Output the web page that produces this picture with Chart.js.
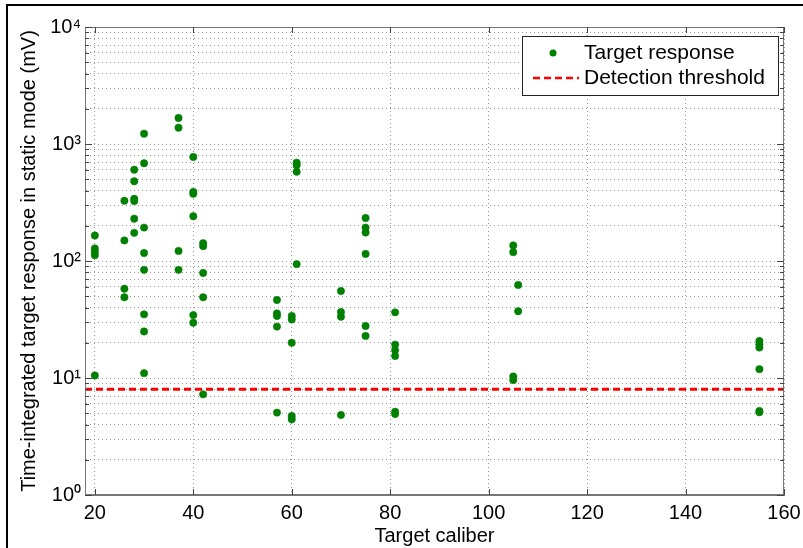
<!DOCTYPE html>
<html>
<head>
<meta charset="utf-8">
<script src="https://cdn.jsdelivr.net/npm/chart.js@4.4.1/dist/chart.umd.min.js"></script>
<style>
  html, body { margin: 0; padding: 0; background: #fff; }
</style>
</head>
<body>
<canvas id="myScatter" width="803" height="548"></canvas>
<script>
const calibers = [
    20, 20, 20, 20, 20,
    26, 26, 26, 26,
    28, 28, 28, 28, 28, 28,
    30, 30, 30, 30, 30, 30, 30, 30,
    37, 37, 37, 37,
    40, 40, 40, 40, 40, 40,
    42, 42, 42, 42, 42,
    57, 57, 57, 57, 57,
    60, 60, 60, 60, 60,
    61, 61, 61, 61,
    70, 70, 70, 70,
    75, 75, 75, 75, 75, 75,
    81, 81, 81, 81, 81, 81,
    105, 105, 105, 105,
    106, 106,
    155, 155, 155, 155, 155, 155
];
const responses = [
    165, 128, 120, 112, 10.5,
    327, 150, 58, 49,
    603, 480, 340, 325, 230, 174,
    1225, 684, 193, 117, 84, 35, 25, 11,
    1668, 1378, 122, 84,
    774, 390, 375, 241, 34.5, 29.7,
    142, 134, 79, 49, 7.25,
    46.4, 35.7, 33.9, 27.5, 5.06,
    33.9, 31.7, 20, 4.73, 4.43,
    692, 658, 580, 94,
    55.4, 36.6, 33.4, 4.83,
    233, 193, 175, 115, 27.8, 22.9,
    36.4, 19.3, 17.3, 15.4, 5.15, 4.92,
    136, 119, 10.3, 9.6,
    62.4, 37.2,
    20.7, 19.4, 18.2, 11.9, 5.22, 5.09
];

// Detection threshold drawn across the whole x range
const thresholdX = [18, 160];
const thresholdLevel = 8;

// Axis ticks
const xTicks = [20, 40, 60, 80, 100, 120, 140, 160];
const yDecades = [1, 10, 100, 1000, 10000];
const yMinorSteps = [2, 3, 4, 5, 6, 7, 8, 9];
const superscripts = ['⁰', '¹', '²', '³', '⁴'];

const FONT = 'Arial, "Liberation Sans", sans-serif';

// every decade plus its minor steps for the log grid
const yTickValues = [];
yDecades.forEach((d, i) => {
    yTickValues.push(d);
    if (i < yDecades.length - 1) yMinorSteps.forEach(s => yTickValues.push(d * s));
});

// frame, box and inward tick marks like the original figure
const framePlugin = {
    id: 'frame',
    afterDraw(chart) {
        const ctx = chart.ctx;
        const a = chart.chartArea;
        const xs = chart.scales.x, ys = chart.scales.y;
        ctx.save();
        ctx.strokeStyle = '#777';
        ctx.lineWidth = 1;
        ctx.strokeRect(a.left + 0.5, a.top + 0.5, a.right - a.left - 1, a.bottom - a.top - 1);

        ctx.strokeStyle = '#444';
        ctx.beginPath();
        ys.ticks.forEach(t => {
            const y = Math.round(ys.getPixelForValue(t.value)) + 0.5;
            const len = yDecades.includes(t.value) ? 7 : 4;
            ctx.moveTo(a.left, y); ctx.lineTo(a.left + len, y);
            ctx.moveTo(a.right, y); ctx.lineTo(a.right - len, y);
        });
        xs.ticks.forEach(t => {
            const x = Math.round(xs.getPixelForValue(t.value)) + 0.5;
            ctx.moveTo(x, a.bottom); ctx.lineTo(x, a.bottom - 6);
            ctx.moveTo(x, a.top); ctx.lineTo(x, a.top + 6);
        });
        ctx.stroke();

        // outer figure border (left and top visible)
        ctx.strokeStyle = '#000';
        ctx.lineWidth = 2;
        ctx.beginPath();
        ctx.moveTo(7, chart.height); ctx.lineTo(7, 5); ctx.lineTo(chart.width, 5);
        ctx.stroke();
        ctx.restore();
    }
};

// boxed legend in the upper right corner
const legendBoxPlugin = {
    id: 'legendBox',
    afterDraw(chart) {
        const ctx = chart.ctx;
        const a = chart.chartArea;
        const ds = chart.data.datasets;
        const right = a.right - 6, top = a.top + 9;
        const w = 256, h = 59;
        const left = right - w;
        ctx.save();
        ctx.fillStyle = '#fff';
        ctx.fillRect(left, top, w, h);
        ctx.strokeStyle = '#222';
        ctx.lineWidth = 1;
        ctx.strokeRect(left + 0.5, top + 0.5, w, h);

        ctx.font = '21px ' + FONT;
        ctx.fillStyle = '#000';
        ctx.textBaseline = 'middle';
        const textX = left + 62;
        const y1 = top + 17, y2 = top + 42;

        ctx.fillStyle = ds[0].backgroundColor;
        ctx.beginPath();
        ctx.arc(left + 31, y1, 3.5, 0, Math.PI * 2);
        ctx.fill();
        ctx.fillStyle = '#000';
        ctx.fillText(ds[0].label, textX, y1);

        ctx.strokeStyle = ds[1].borderColor;
        ctx.lineWidth = 2.5;
        ctx.setLineDash(ds[1].borderDash);
        ctx.beginPath();
        ctx.moveTo(left + 11, y2); ctx.lineTo(left + 57, y2);
        ctx.stroke();
        ctx.setLineDash([]);
        ctx.fillText(ds[1].label, textX, y2);
        ctx.restore();
    }
};

const ctx = document.getElementById('myScatter').getContext('2d');
const myScatter = new Chart(ctx, {
    type: 'scatter',
    data: {
        datasets: [{
            label: 'Target response',
            data: calibers.map((c, i) => ({ x: c, y: responses[i] })),
            backgroundColor: '#008000',
            borderColor: '#008000',
            pointRadius: 3.7,
            borderWidth: 0.5
        }, {
            type: 'line',
            label: 'Detection threshold',
            data: thresholdX.map(x => ({ x: x, y: thresholdLevel })),
            borderColor: '#ff0000',
            borderWidth: 3,
            borderDash: [7, 4],
            pointRadius: 0,
            fill: false
        }]
    },
    options: {
        responsive: false,
        animation: false,
        layout: { padding: { left: 13, top: 27, right: 19, bottom: 0 } },
        plugins: {
            legend: { display: false },
            tooltip: { enabled: false }
        },
        scales: {
            x: {
                type: 'linear',
                min: 18,
                max: 160,
                afterBuildTicks: s => { s.ticks = xTicks.map(v => ({ value: v })); },
                afterFit: s => { s.height = 53; s.paddingLeft = 0; s.paddingRight = 0; },
                grid: { color: '#999', drawTicks: false },
                border: { color: '#777', dash: [1, 3] },
                ticks: { color: '#000', padding: 6, maxRotation: 0, font: { family: FONT, size: 20 } },
                title: {
                    display: true,
                    text: 'Target caliber',
                    color: '#000',
                    font: { family: FONT, size: 20 },
                    padding: { top: 0, bottom: 0 }
                }
            },
            y: {
                type: 'logarithmic',
                min: 1,
                max: 10000,
                afterBuildTicks: s => { s.ticks = yTickValues.map(v => ({ value: v })); },
                afterFit: s => { s.width = 72; s.paddingTop = 0; s.paddingBottom = 0; },
                grid: { color: '#999', drawTicks: false },
                border: { color: '#777', dash: [1, 3] },
                ticks: {
                    autoSkip: false,
                    color: '#000',
                    padding: 4,
                    font: { family: FONT, size: 20 },
                    callback: v => {
                        const i = yDecades.indexOf(v);
                        return i >= 0 ? '10' + superscripts[i] : '';
                    }
                },
                title: {
                    display: true,
                    text: 'Time-integrated target response in static mode (mV)',
                    color: '#000',
                    font: { family: FONT, size: 20 },
                    padding: { top: 4, bottom: 4 }
                }
            }
        }
    },
    plugins: [framePlugin, legendBoxPlugin]
});
</script>
</body>
</html>
